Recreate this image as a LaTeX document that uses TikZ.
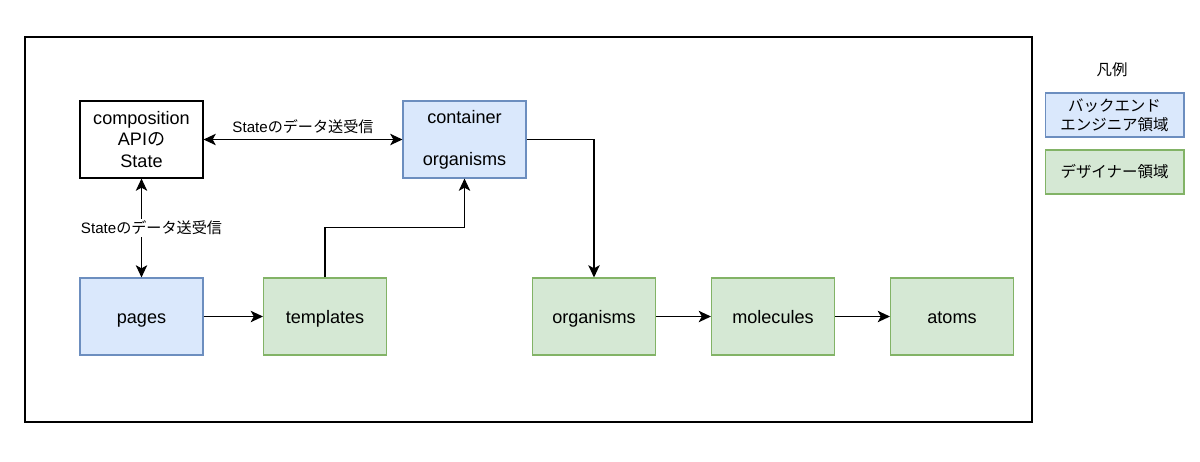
\documentclass[tikz,border=0pt]{standalone}
\usepackage{fontspec}
\setmainfont{Liberation Sans}
\newfontfamily\jp{Noto Sans CJK JP}
\usetikzlibrary{arrows.meta,positioning,calc}
\definecolor{backfill}{HTML}{DAE8FC}
\definecolor{backline}{HTML}{6C8EBF}
\definecolor{desfill}{HTML}{D5E8D4}
\definecolor{desline}{HTML}{82B366}

\begin{document}
\begin{tikzpicture}[x=0.02cm,y=-0.02cm,
  font=\fontsize{10.3}{12}\selectfont,
  box/.style={draw=black,line width=0.6pt,align=center,minimum width=2.46cm,minimum height=1.54cm,inner sep=2pt},
  back/.style={box,fill=backfill,draw=backline},
  des/.style={box,fill=desfill,draw=desline},
  oneline/.style={text height=0.9em,text depth=0.08em},
  legbox/.style={box,minimum width=2.78cm,minimum height=0.88cm,font=\fontsize{8.8}{11}\selectfont\jp},
  lab/.style={font=\fontsize{8.6}{10}\selectfont,fill=white,inner sep=1pt},
  link/.style={line width=0.8pt},
  >={Stealth[length=7pt,width=6.5pt,inset=1.8pt]}]
  \useasboundingbox (0,0) rectangle (1200,461);
  \node[draw=black,line width=0.8pt,minimum width=20.14cm,minimum height=7.7cm] (frame) at (528.5,229.5) {};
  % upper row
  \node[box] (comp) at (141.5,139.5) {composition\\API{\jp の}\\State};
  \node[back] (cont) at (464.5,139.5) {container\\[12pt]organisms};
  % lower row
  \node[back,oneline] (pages) at (141.5,316.5) {pages};
  \node[des,oneline] (tmpl) at (325,316.5) {templates};
  \node[des,oneline] (org) at (594,316.5) {organisms};
  \node[des,oneline] (mol) at (773,316.5) {molecules};
  \node[des,oneline] (atoms) at (952,316.5) {atoms};
  % legend
  \node[font=\fontsize{8.8}{11}\selectfont\jp] (legtitle) at (1112,70) {凡例};
  \node[legbox,fill=backfill,draw=backline] (legback) at (1114.5,115) {バックエンド\\エンジニア領域};
  \node[legbox,fill=desfill,draw=desline] (legdes) at (1114.5,172) {デザイナー領域};
  \draw[link,<->] (comp) -- node[lab,above,yshift=2pt,fill=none]{State{\jp のデータ送受信}} (cont);
  \draw[link,<->] (comp) -- node[lab,xshift=0.2cm]{State{\jp のデータ送受信}} (pages);
  \draw[link,->] (tmpl.north) -- ++(0,-50) -| (cont.south);
  \draw[link,->] (cont.east) -| (org.north);
  \draw[link,->] (pages) -- (tmpl);
  \draw[link,->] (org) -- (mol);
  \draw[link,->] (mol) -- (atoms);
\end{tikzpicture}
\end{document}
